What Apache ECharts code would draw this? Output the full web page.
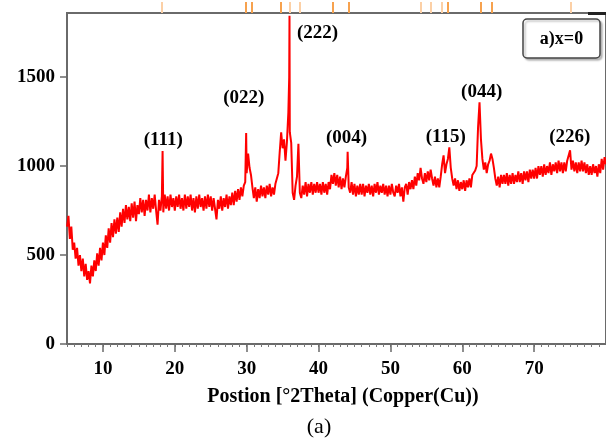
<!DOCTYPE html>
<html>
<head>
<meta charset="utf-8">
<script src="https://cdn.jsdelivr.net/npm/echarts@6/dist/echarts.min.js"></script>
<style>html,body{margin:0;padding:0;background:#fff}#c{width:606px;height:442px}</style>
</head>
<body>
<div id="c"></div>
<script>
// ---- data ----
const twoThetaStart = 5;
const twoThetaStep = 0.2;
// intensity every 0.2 deg from 5.0 to 80.0
const intensity = [
660,720,590,660,530,
570,480,540,440,500,
410,480,380,450,360,
410,340,440,380,470,
410,510,440,540,470,
570,500,610,540,650,
570,680,600,700,620,
710,630,740,660,760,
680,780,700,770,690,
790,710,800,690,780,
730,820,740,810,720,
810,750,840,740,820,
760,840,750,670,810,
750,830,740,840,760,
830,750,840,770,820,
750,830,770,840,760,
820,750,840,760,830,
770,840,750,820,740,
830,760,840,770,820,
750,830,760,840,770,
830,750,820,760,700,
810,760,830,750,820,
770,840,760,830,780,
850,780,860,800,870,
810,880,830,890,910,
960,1070,990,950,880,
820,880,800,870,820,
890,830,880,820,890,
840,900,830,880,840,
900,930,960,1080,1190,
1100,1150,1030,1135,1300,
1190,1130,850,810,890,
940,1125,850,820,890,
840,910,830,900,850,
910,840,900,850,910,
850,900,840,910,850,
900,840,910,870,950,
900,960,890,950,880,
940,870,930,880,940,
990,880,850,910,840,
900,830,890,840,900,
840,900,830,890,850,
900,840,890,830,900,
850,910,840,890,850,
900,840,890,830,890,
840,900,850,830,890,
850,900,830,880,800,
880,900,840,910,870,
920,870,940,890,960,
920,990,930,900,960,
910,970,920,980,930,
890,940,880,930,880,
940,1010,1060,960,1010,
1040,1105,990,930,890,
930,870,920,860,910,
870,920,860,920,880,
930,880,950,960,975,
1000,1220,1358,1150,1040,
980,1020,960,1010,1030,
1070,1040,990,930,890,
940,880,950,900,950,
900,960,890,950,900,
960,900,950,910,970,
910,960,900,970,920,
970,910,980,930,980,
930,990,930,1000,950,
1000,940,1010,950,1000,
960,1020,950,1010,970,
1020,960,1030,970,1020,
960,1020,970,1030,1040,
1088,980,1030,970,1020,
960,1020,970,1030,970,
1020,960,1010,950,1000,
950,1010,960,1000,940,
1010,960,1040,980,1050,
1010
];
// sharp reflections between samples [2theta, intensity]
const sharpPeaks = [[18.3,1085],[29.93,1185],[35.92,1500],[35.96,1845],[44.05,1080]];
// reference pattern sticks (top)
const refStrong = [29.92,30.65,34.79,42.03,44.21,58.02,62.53,64.04];
const refWeak = [18.22,35.95,37.38,54.19,55.58,57.21,75.08];
// hkl annotations
const hklNames = ['(111)','(022)','(222)','(004)','(115)','(044)','(226)'];
const hklX = [18.4,29.6,39.85,43.9,57.7,62.7,74.95];
const hklY = [1144,1380,1746,1155,1160,1414,1160];
// ticks
const xTicks = [10,20,30,40,50,60,70];
const yTicks = [0,500,1000,1500];

// ---- build ----
const lineData = intensity.map((v,i)=>[Math.round((twoThetaStart+i*twoThetaStep)*100)/100, v])
  .concat(sharpPeaks).sort((a,b)=>a[0]-b[0]);
const FONT = "'Times New Roman','Liberation Serif',serif";
const AX = '#6a6a6a';
const chart = echarts.init(document.getElementById('c'), null, {renderer:'canvas'});
function topAxis(vals, color){
  return {type:'value', position:'top', min:5, max:80,
    axisLine:{show:false, onZero:false}, splitLine:{show:false},
    axisTick:{show:true, inside:false, length:11, customValues:vals, lineStyle:{color:color,width:2}},
    axisLabel:{show:false}};
}
chart.setOption({
  animation:false,
  grid:{left:67, top:13, right:0, bottom:98, show:true, borderColor:AX, borderWidth:2},
  xAxis:[
    {type:'value', min:5, max:80, interval:1, position:'bottom',
     axisLine:{show:true, onZero:false, lineStyle:{color:AX,width:2}},
     axisTick:{show:true, length:3, lineStyle:{color:'#777',width:1}},
     axisLabel:{show:false}, splitLine:{show:false}},
    {type:'value', min:5, max:80, position:'bottom',
     axisLine:{show:false, onZero:false}, splitLine:{show:false},
     axisTick:{show:true, length:8, customValues:xTicks, lineStyle:{color:AX,width:1.5}},
     axisLabel:{show:true, customValues:xTicks, formatter:v=>String(v), margin:16, color:'#000', fontFamily:FONT, fontWeight:'bold', fontSize:19}},
    topAxis(refWeak,'#fcd0a6'),
    topAxis(refStrong,'#f7a24e')
  ],
  yAxis:{type:'value', min:0, max:1860,
    axisLine:{show:true, onZero:false, lineStyle:{color:AX,width:2}},
    axisTick:{show:true, length:7, customValues:yTicks, lineStyle:{color:AX,width:1.5}},
    axisLabel:{show:true, customValues:yTicks, formatter:v=>String(v), margin:12, color:'#000', fontFamily:FONT, fontWeight:'bold', fontSize:19},
    splitLine:{show:false}},
  series:[
    {type:'line', xAxisIndex:0, data:lineData, showSymbol:false, symbol:'none',
     lineStyle:{color:'#ff0000', width:2}, itemStyle:{color:'#ff0000'}},
    {type:'scatter', xAxisIndex:0, symbolSize:0, silent:true, itemStyle:{opacity:1},
     data:hklX.map((x,i)=>({name:hklNames[i], value:[x,hklY[i]]})),
     label:{show:true, position:'inside', formatter:p=>p.name, color:'#000', textBorderWidth:0, opacity:1, fontFamily:FONT, fontWeight:'bold', fontSize:19}}
  ],
  graphic:[
    {type:'rect', shape:{x:523, y:19, width:77, height:39, r:4},
     style:{fill:'#fff', stroke:'#444', lineWidth:1.5, shadowColor:'rgba(0,0,0,0.25)', shadowOffsetX:2, shadowOffsetY:2, shadowBlur:2}},
    {type:'text', x:561.5, y:39, style:{text:'a)x=0', align:'center', verticalAlign:'middle', fill:'#000', font:"bold 18px "+FONT}},
    {type:'rect', shape:{x:588, y:12, width:18, height:3}, style:{fill:'#222'}},
    {type:'text', x:343, y:397, style:{text:'Postion [°2Theta] (Copper(Cu))', align:'center', verticalAlign:'middle', fill:'#000', font:"bold 20px "+FONT}},
    {type:'text', x:319, y:427, style:{text:'(a)', align:'center', verticalAlign:'middle', fill:'#000', font:"22px "+FONT}}
  ]
});
</script>
</body>
</html>
